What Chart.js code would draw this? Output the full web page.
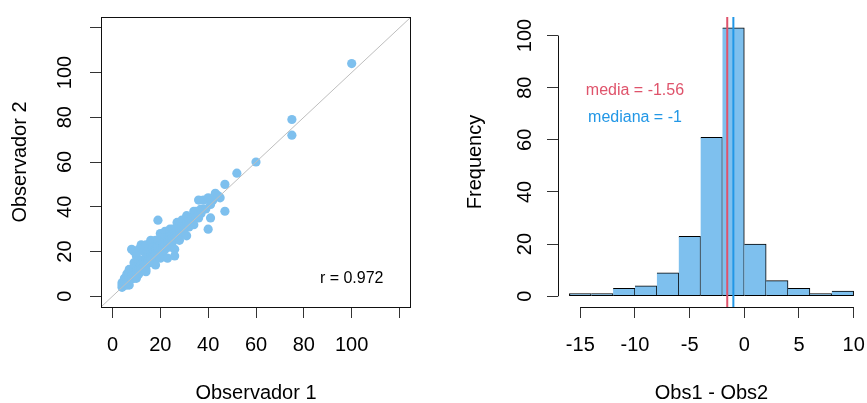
<!DOCTYPE html>
<html>
<head>
<meta charset="utf-8">
<script src="https://cdn.jsdelivr.net/npm/chart.js@4.4.1/dist/chart.umd.min.js"></script>
<style>
  html, body { margin: 0; padding: 0; background: #fff; }
  #wrap { position: relative; width: 867px; height: 403px; background: #fff; }
  canvas { position: absolute; top: 0; }
  #izq { left: 0; }
  #der { left: 433px; }
</style>
</head>
<body>
<div id="wrap">
  <canvas id="izq" width="433" height="403"></canvas>
  <canvas id="der" width="434" height="403"></canvas>
</div>
<script>
// Paired measurements of the two observers
const observador1 = [
  19,
  8,
  12, 9,
  11,
  14, 16,
  10, 20,
  36, 13, 22, 18,
  24, 15, 9, 27, 20,
  29, 7, 11, 14, 17, 21, 25, 31, 38, 19,
  100, 75, 40, 6, 9, 12, 15, 18, 22, 26, 30, 34, 16,
  52, 47, 43, 35, 5, 6, 7, 8, 9, 10, 11, 12, 13, 14, 15, 16, 17, 18, 19, 20, 21, 22, 24, 25, 27, 28, 30, 32,
  5, 33, 4, 5, 6, 6, 7, 7, 8, 8, 9, 10, 10, 11, 12, 12, 13, 14, 15, 16, 17, 18, 19, 20, 21, 22, 23, 25, 26, 28, 29, 31, 37,
  4, 5, 5, 6, 6, 6, 7, 7, 7, 8, 8, 8, 9, 9, 9, 10, 10, 10, 11, 11, 11, 12, 12, 12, 13, 13, 14, 14, 15, 15, 16, 16, 17, 17, 18, 18, 19, 19, 20, 20, 21, 21, 22, 23, 24, 25, 26, 27, 28, 29, 30, 31, 32, 34, 36, 38, 42, 44,
  60, 39, 5, 4, 5, 6, 6, 7, 7, 8, 8, 9, 9, 10, 10, 11, 11, 12, 12, 13, 13, 14, 14, 15, 15, 16, 17, 18, 19, 20, 21, 22, 23, 24, 25, 26, 27, 28, 29, 30, 32, 33, 35, 37, 41,
  45, 6, 9, 11, 13, 16, 19, 22, 25, 28, 32, 36,
  7, 10, 14, 17, 21, 24, 30, 34,
  75, 20, 14, 28,
  31, 18,
  26,
  41, 23,
  26,
  47,
  40
];
const observador2 = [
  34,
  21,
  23, 20,
  21,
  23, 25,
  18, 28,
  43, 20, 29, 25,
  30, 21, 15, 33, 26,
  34, 12, 16, 19, 22, 26, 30, 36, 43, 24,
  104, 79, 44, 10, 13, 16, 19, 22, 26, 30, 34, 38, 20,
  55, 50, 46, 38, 8, 9, 10, 11, 12, 13, 14, 15, 16, 17, 18, 19, 20, 21, 22, 23, 24, 25, 27, 28, 30, 31, 33, 35,
  7, 35, 6, 7, 8, 8, 9, 9, 10, 10, 11, 12, 12, 13, 14, 14, 15, 16, 17, 18, 19, 20, 21, 22, 23, 24, 25, 27, 28, 30, 31, 33, 39,
  5, 6, 6, 7, 7, 7, 8, 8, 8, 9, 9, 9, 10, 10, 10, 11, 11, 11, 12, 12, 12, 13, 13, 13, 14, 14, 15, 15, 16, 16, 17, 17, 18, 18, 19, 19, 20, 20, 21, 21, 22, 22, 23, 24, 25, 26, 27, 28, 29, 30, 31, 32, 33, 35, 37, 39, 43, 45,
  60, 39, 5, 4, 5, 6, 6, 7, 7, 8, 8, 9, 9, 10, 10, 11, 11, 12, 12, 13, 13, 14, 14, 15, 15, 16, 17, 18, 19, 20, 21, 22, 23, 24, 25, 26, 27, 28, 29, 30, 32, 33, 35, 37, 41,
  44, 5, 8, 10, 12, 15, 18, 21, 24, 27, 31, 35,
  5, 8, 12, 15, 19, 22, 28, 32,
  72, 17, 11, 25,
  27, 14,
  21,
  35, 17,
  18,
  38,
  30
];

// Histogram of Obs1 - Obs2
const cortes = [-16, -14, -12, -10, -8, -6, -4, -2, 0, 2, 4, 6, 8, 10];
const frecuencias = [1, 1, 3, 4, 9, 23, 61, 103, 20, 6, 3, 1, 2];

// Summary statistics shown on the plots
const media = -1.56;
const mediana = -1;
const correlacion = 0.972;

// Axis ticks
const ticksObs = [0, 20, 40, 60, 80, 100, 120];
const etiquetasObs = ['0', '20', '40', '60', '80', '100', ''];
const ticksDif = [-15, -10, -5, 0, 5, 10];
const ticksFreq = [0, 20, 40, 60, 80, 100];

const AZUL = '#7EC0EE';
const ROJO = '#DF536B';
const AZUL_LINEA = '#2297E6';
const FUENTE = "'Liberation Sans', Arial, sans-serif";
const TINTA = '#111';

Chart.defaults.font.family = FUENTE;
Chart.defaults.color = '#000';

// axis range widened by 4% on each side
function rango(a, b) { const d = (b - a) * 0.04; return [a - d, b + d]; }
const [oMin, oMax] = rango(0, 120);
const [hxMin, hxMax] = rango(cortes[0], cortes[cortes.length - 1]);
const [hyMin, hyMax] = rango(0, Math.max(...frecuencias));

const fijarTicks = valores => s => { s.ticks = valores.map(v => ({ value: v })); };
const sinRelleno = s => { s.paddingTop = 0; s.paddingBottom = 0; s.paddingLeft = 0; s.paddingRight = 0; };
const ancho = w => s => { s.width = w; sinRelleno(s); };
const alto = h => s => { s.height = h; sinRelleno(s); };

const rejilla = { drawOnChartArea: false, drawTicks: true, tickLength: 11, tickColor: '#333', lineWidth: 1 };

// free text placed in data coordinates
const textosPlugin = {
  id: 'textos',
  afterDatasetsDraw(chart, args, opts) {
    const { ctx, scales: { x, y } } = chart;
    ctx.save();
    ctx.textAlign = 'center';
    ctx.textBaseline = 'middle';
    for (const t of opts.items || []) {
      ctx.font = t.size + 'px ' + FUENTE;
      ctx.fillStyle = t.color;
      ctx.fillText(t.text, x.getPixelForValue(t.x), y.getPixelForValue(t.y));
    }
    ctx.restore();
  }
};

// full frame around the scatter plot
const cajaPlugin = {
  id: 'caja',
  afterDatasetsDraw(chart) {
    const { ctx, chartArea: a } = chart;
    ctx.save();
    ctx.strokeStyle = TINTA;
    ctx.lineWidth = 1;
    ctx.strokeRect(Math.round(a.left) + 0.5, Math.round(a.top) + 0.5,
                   Math.round(a.right - a.left) - 1, Math.round(a.bottom - a.top));
    ctx.restore();
  }
};

// axis lines running only between first and last tick
const ejesPlugin = {
  id: 'ejes',
  afterDatasetsDraw(chart) {
    const { ctx, chartArea: a, scales: { x, y } } = chart;
    ctx.save();
    ctx.strokeStyle = TINTA;
    ctx.lineWidth = 1;
    ctx.beginPath();
    const xl = Math.round(a.left) + 0.5;
    ctx.moveTo(xl, y.getPixelForValue(ticksFreq[0]));
    ctx.lineTo(xl, y.getPixelForValue(ticksFreq[ticksFreq.length - 1]));
    const yb = Math.round(a.bottom) + 0.5;
    ctx.moveTo(x.getPixelForValue(ticksDif[0]), yb);
    ctx.lineTo(x.getPixelForValue(ticksDif[ticksDif.length - 1]), yb);
    ctx.stroke();
    ctx.restore();
  }
};

const base = {
  responsive: false,
  animation: false,
  devicePixelRatio: 1,
  events: []
};

// Left: Observador 1 vs Observador 2
new Chart(document.getElementById('izq'), {
  type: 'scatter',
  data: {
    datasets: [
      {
        type: 'line',
        data: [{ x: oMin, y: oMin }, { x: oMax, y: oMax }],
        borderColor: '#BEBEBE', borderWidth: 1, pointRadius: 0, order: 0
      },
      {
        data: observador1.map((v, i) => ({ x: v, y: observador2[i] })),
        backgroundColor: AZUL, borderColor: AZUL,
        pointRadius: 4.6, pointBorderWidth: 0, order: 1
      }
    ]
  },
  options: {
    ...base,
    layout: { padding: { left: 0, top: 17, right: 22, bottom: 0 } },
    plugins: {
      legend: { display: false },
      tooltip: { enabled: false },
      textos: { items: [{ text: 'r = ' + correlacion.toFixed(3), x: 100, y: 8, color: '#000', size: 16 }] }
    },
    scales: {
      x: {
        type: 'linear', min: oMin, max: oMax,
        afterBuildTicks: fijarTicks(ticksObs), afterFit: alto(96),
        border: { display: false }, grid: rejilla,
        ticks: { autoSkip: false, maxRotation: 0, padding: 15, font: { size: 20 }, color: '#000',
                 callback: (v, i) => etiquetasObs[i] },
        title: { display: true, text: 'Observador 1', font: { size: 20, lineHeight: 1 }, padding: 0, color: '#000' }
      },
      y: {
        type: 'linear', min: oMin, max: oMax,
        afterBuildTicks: fijarTicks(ticksObs), afterFit: ancho(101),
        border: { display: false }, grid: rejilla,
        ticks: { autoSkip: false, minRotation: 90, maxRotation: 90, crossAlign: 'center', padding: 8,
                 font: { size: 20 }, color: '#000', callback: (v, i) => etiquetasObs[i] },
        title: { display: true, text: 'Observador 2', font: { size: 20, lineHeight: 1.2 }, padding: { top: 8, bottom: 0 }, color: '#000' }
      }
    }
  },
  plugins: [cajaPlugin, textosPlugin]
});

// Right: histogram of the differences
new Chart(document.getElementById('der'), {
  type: 'bar',
  data: {
    datasets: [
      {
        type: 'line',
        data: [{ x: media, y: hyMin }, { x: media, y: hyMax }],
        borderColor: ROJO, borderWidth: 2, pointRadius: 0, order: 0
      },
      {
        type: 'line',
        data: [{ x: mediana, y: hyMin }, { x: mediana, y: hyMax }],
        borderColor: AZUL_LINEA, borderWidth: 2, pointRadius: 0, order: 0
      },
      {
        type: 'bar',
        data: frecuencias.map((f, i) => ({ x: (cortes[i] + cortes[i + 1]) / 2, y: f })),
        backgroundColor: AZUL, borderColor: '#000',
        borderWidth: c => ({ top: 1, right: 1, bottom: 1, left: c.dataIndex === 0 ? 1 : 0 }),
        borderSkipped: false, barPercentage: 1, categoryPercentage: 1, order: 1
      }
    ]
  },
  options: {
    ...base,
    layout: { padding: { left: 0, top: 17, right: 2, bottom: 0 } },
    plugins: {
      legend: { display: false },
      tooltip: { enabled: false },
      textos: {
        items: [
          { text: 'media = ' + media, x: -10, y: 78.7, color: ROJO, size: 16 },
          { text: 'mediana = ' + mediana, x: -10, y: 68.6, color: AZUL_LINEA, size: 16 }
        ]
      }
    },
    scales: {
      x: {
        type: 'linear', min: hxMin, max: hxMax, offset: false,
        afterBuildTicks: fijarTicks(ticksDif), afterFit: alto(96),
        border: { display: false }, grid: { ...rejilla, offset: false },
        ticks: { autoSkip: false, maxRotation: 0, padding: 15, font: { size: 20 }, color: '#000' },
        title: { display: true, text: 'Obs1 - Obs2', font: { size: 20, lineHeight: 1 }, padding: 0, color: '#000' }
      },
      y: {
        type: 'linear', min: hyMin, max: hyMax,
        afterBuildTicks: fijarTicks(ticksFreq), afterFit: ancho(125),
        border: { display: false }, grid: rejilla,
        ticks: { autoSkip: false, minRotation: 90, maxRotation: 90, crossAlign: 'center', padding: 5,
                 font: { size: 20 }, color: '#000' },
        title: { display: true, text: 'Frequency', font: { size: 20, lineHeight: 1.2 }, padding: { top: 30, bottom: 0 }, color: '#000' }
      }
    }
  },
  plugins: [ejesPlugin, textosPlugin]
});
</script>
</body>
</html>
